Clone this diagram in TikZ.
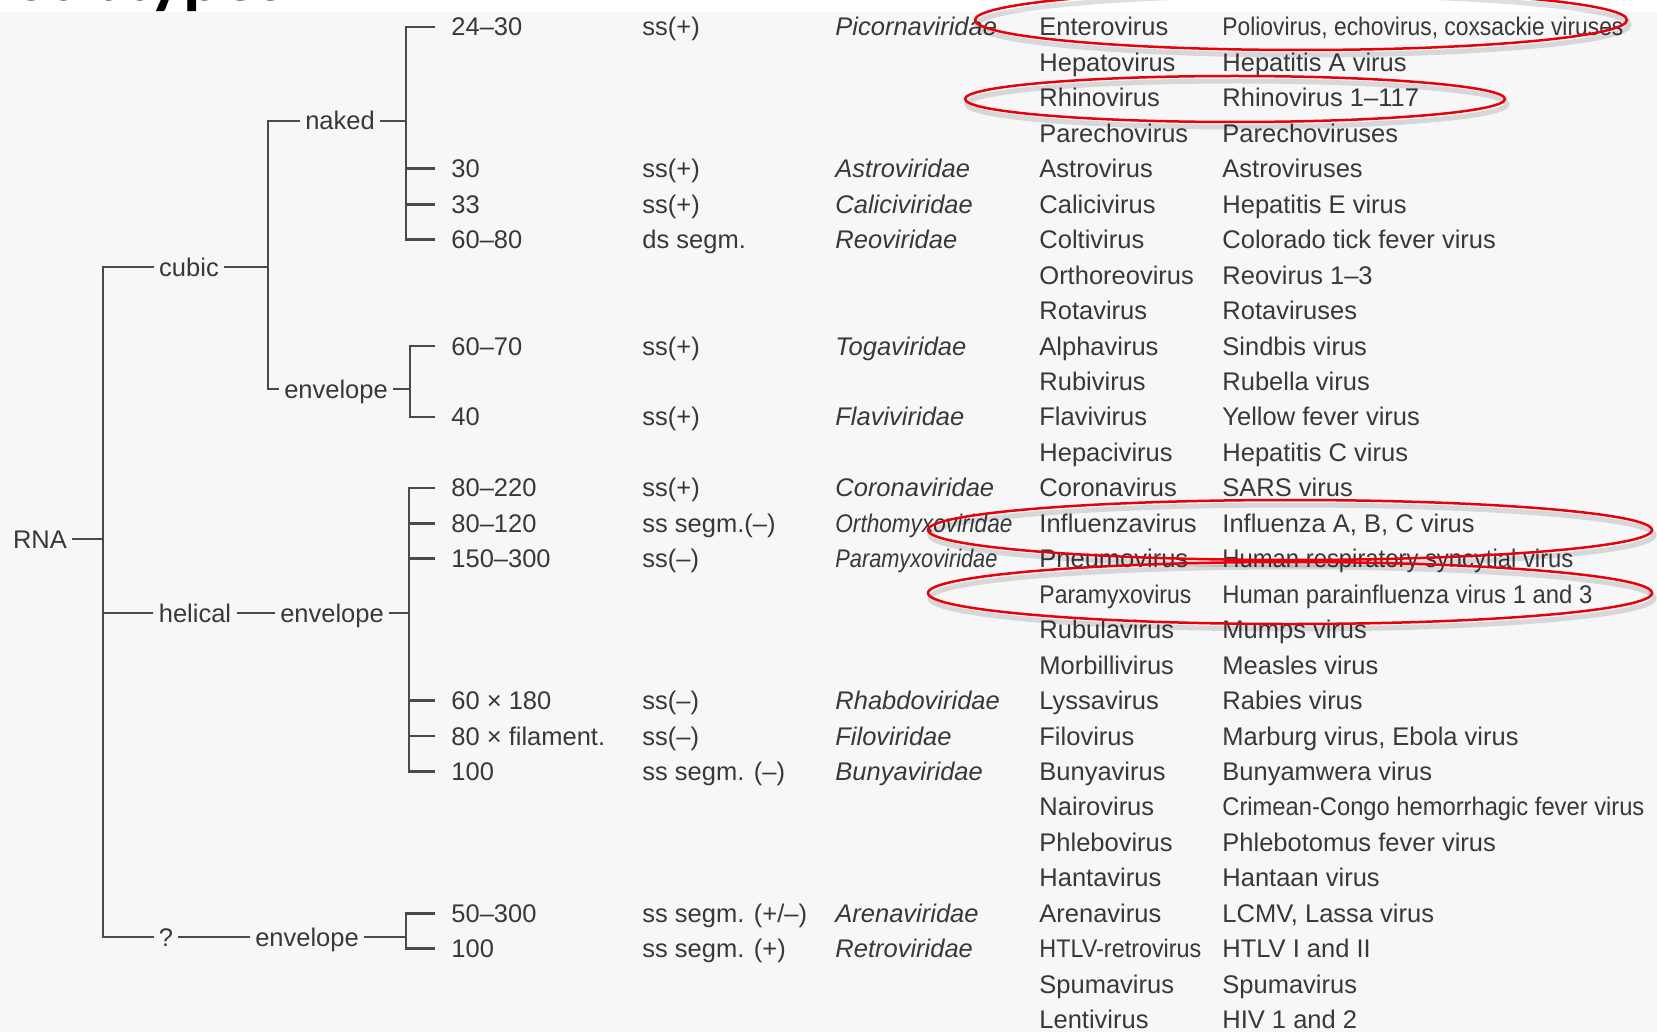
\documentclass[tikz,border=0pt]{standalone}
\usepackage{fontspec}
\usepackage{graphicx}
\setmainfont{Liberation Sans}
\newfontfamily\titlefont{Carlito}
\definecolor{txtc}{HTML}{383838}
\definecolor{linec}{HTML}{4A4A4A}
\definecolor{bgc}{HTML}{F7F7F7}
\definecolor{redc}{HTML}{E8000B}
\newcommand\genrow[3]{%
  \node[tx] (g#1) at (1039,{27+(#1-1)*35.45}) {#2};
  \node[tx] (v#1) at (1222,{27+(#1-1)*35.45}) {#3};}
\newcommand\famrow[4]{%
  \node[sz] (z#1) at (435,{27+(#1-1)*35.45}) {#2};
  \node[tx] (m#1) at (642,{27+(#1-1)*35.45}) {#3};
  \node[it] (f#1) at (835,{27+(#1-1)*35.45}) {#4};}
\begin{document}
\begin{tikzpicture}[x=0.5pt,y=-0.5pt,
  tx/.style={anchor=west, inner xsep=0pt, inner ysep=0pt, text height=9pt, text depth=0pt,
    text=txtc, font=\fontsize{12.75pt}{15pt}\selectfont},
  it/.style={tx, font=\fontsize{12.75pt}{15pt}\selectfont\itshape},
  sz/.style={tx, inner xsep=8pt},
  lab/.style={tx, anchor=center, inner xsep=2.5pt},
  tree/.style={draw=linec, line width=1.3pt},
  redring/.style={draw=redc, line width=1.25pt},
  ringshadow/.style={draw=black, opacity=0.13, line width=2.5pt}]
\useasboundingbox (0,0) rectangle (1657,1032);
\clip (0,0) rectangle (1657,1032);
\fill[white] (0,0) rectangle (1657,12);
\fill[bgc] (0,12) rectangle (1657,1032);
\node[anchor=base west, inner sep=0pt, font=\titlefont\bfseries\fontsize{35.5pt}{40pt}\selectfont] (title) at (15,1) {Subtypes};

% table columns
\famrow{1}{24–30}{ss(+)}{Picornaviridae}
\famrow{5}{30}{ss(+)}{Astroviridae}
\famrow{6}{33}{ss(+)}{Caliciviridae}
\famrow{7}{60–80}{ds segm.}{Reoviridae}
\famrow{10}{60–70}{ss(+)}{Togaviridae}
\famrow{12}{40}{ss(+)}{Flaviviridae}
\famrow{14}{80–220}{ss(+)}{Coronaviridae}
\famrow{15}{80–120}{ss segm.(–)}{\resizebox{88.5pt}{\height}{Orthomyxoviridae}}
\famrow{16}{150–300}{ss(–)}{\resizebox{81pt}{\height}{Paramyxoviridae}}
\famrow{20}{60 × 180}{ss(–)}{Rhabdoviridae}
\famrow{21}{80 × filament.}{ss(–)}{Filoviridae}
\famrow{22}{100}{ss segm. (–)}{Bunyaviridae}
\famrow{26}{50–300}{ss segm. (+/–)}{Arenaviridae}
\famrow{27}{100}{ss segm. (+)}{Retroviridae}

\genrow{1}{Enterovirus}{\resizebox{200.5pt}{\height}{Poliovirus, echovirus, coxsackie viruses}}
\genrow{2}{Hepatovirus}{Hepatitis A virus}
\genrow{3}{Rhinovirus}{Rhinovirus 1–117}
\genrow{4}{Parechovirus}{Parechoviruses}
\genrow{5}{Astrovirus}{Astroviruses}
\genrow{6}{Calicivirus}{Hepatitis E virus}
\genrow{7}{Coltivirus}{Colorado tick fever virus}
\genrow{8}{Orthoreovirus}{Reovirus 1–3}
\genrow{9}{Rotavirus}{Rotaviruses}
\genrow{10}{Alphavirus}{Sindbis virus}
\genrow{11}{Rubivirus}{Rubella virus}
\genrow{12}{Flavivirus}{Yellow fever virus}
\genrow{13}{Hepacivirus}{Hepatitis C virus}
\genrow{14}{Coronavirus}{SARS virus}
\genrow{15}{Influenzavirus}{Influenza A, B, C virus}
\genrow{16}{Pneumovirus}{\resizebox{175.5pt}{\height}{Human respiratory syncytial virus}}
\genrow{17}{\resizebox{76pt}{\height}{Paramyxovirus}}{\resizebox{185pt}{\height}{Human parainfluenza virus 1 and 3}}
\genrow{18}{Rubulavirus}{Mumps virus}
\genrow{19}{Morbillivirus}{Measles virus}
\genrow{20}{Lyssavirus}{Rabies virus}
\genrow{21}{Filovirus}{Marburg virus, Ebola virus}
\genrow{22}{Bunyavirus}{Bunyamwera virus}
\genrow{23}{Nairovirus}{\resizebox{211pt}{\height}{Crimean-Congo hemorrhagic fever virus}}
\genrow{24}{Phlebovirus}{Phlebotomus fever virus}
\genrow{25}{Hantavirus}{Hantaan virus}
\genrow{26}{Arenavirus}{LCMV, Lassa virus}
\genrow{27}{\resizebox{81pt}{\height}{HTLV-retrovirus}}{HTLV I and II}
\genrow{28}{Spumavirus}{Spumavirus}
\genrow{29}{Lentivirus}{HIV 1 and 2}

% tree labels
\node[lab] (rna) at (40,539) {RNA};
\node[lab] (cubic) at (189,267) {cubic};
\node[lab] (naked) at (340,121) {naked};
\node[lab] (env1) at (336,389) {envelope};
\node[lab] (hel) at (195,613) {helical};
\node[lab] (env2) at (332,613) {envelope};
\node[lab] (qm) at (166,937) {?};
\node[lab] (env3) at (307,937) {envelope};

% junctions
\coordinate (tb) at (103,937);
\coordinate (cv) at (268,267);
\coordinate (nv) at (406,121);
\coordinate (ev1) at (410,389);
\coordinate (hv) at (409,613);
\coordinate (qv) at (406,937);

% connectors
\draw[tree] (cubic.west) -| (tb) -- (qm.west);
\draw[tree] (rna.east) -- (rna.east -| tb);
\draw[tree] (hel.west) -- (hel.west -| tb);
\draw[tree] (cubic.east) -- (cv);
\draw[tree] (naked.west) -| (cv) |- (env1.west);
\draw[tree] (naked.east) -- (nv);
\draw[tree] (z1.west) -| (nv) |- (z7.west);
\draw[tree] (z5.west) -- (z5.west -| nv);
\draw[tree] (z6.west) -- (z6.west -| nv);
\draw[tree] (env1.east) -- (ev1);
\draw[tree] (z10.west) -| (ev1) |- (z12.west);
\draw[tree] (hel.east) -- (env2.west);
\draw[tree] (env2.east) -- (hv);
\draw[tree] (z14.west) -| (hv) |- (z22.west);
\draw[tree] (z15.west) -- (z15.west -| hv);
\draw[tree] (z16.west) -- (z16.west -| hv);
\draw[tree] (z20.west) -- (z20.west -| hv);
\draw[tree] (z21.west) -- (z21.west -| hv);
\draw[tree] (qm.east) -- (env3.west);
\draw[tree] (env3.east) -- (qv);
\draw[tree] (z26.west) -| (qv) |- (z27.west);

% red highlight rings
\draw[ringshadow] (1303,25) ellipse [x radius=163pt, y radius=15pt];
\draw[ringshadow] (1237,104) ellipse [x radius=135pt, y radius=11.5pt];
\draw[ringshadow] (1292,535) ellipse [x radius=181pt, y radius=15pt];
\draw[ringshadow] (1292,598) ellipse [x radius=181pt, y radius=15.5pt];
\draw[redring] (1301,20) ellipse [x radius=163pt, y radius=15pt];
\draw[redring] (1235,99) ellipse [x radius=135pt, y radius=11.5pt];
\draw[redring] (1290,530) ellipse [x radius=181pt, y radius=15pt];
\draw[redring] (1290,593) ellipse [x radius=181pt, y radius=15.5pt];
\end{tikzpicture}
\end{document}
